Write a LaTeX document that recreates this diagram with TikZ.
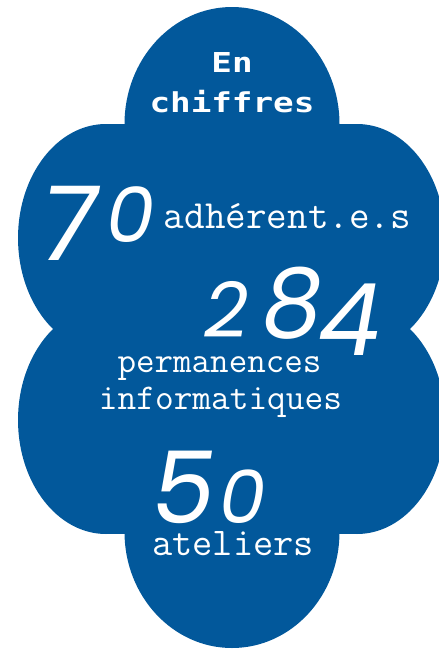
\documentclass[tikz,border=0pt]{standalone}
\usepackage{fontspec}
\newfontfamily\enfont[FakeStretch=1.25]{DejaVu Sans Mono}
\newfontfamily\numfont{Poppins}
\definecolor{cloudblue}{RGB}{2,88,155}
\newcommand{\fsz}[1]{\fontsize{#1}{#1}\selectfont}
\begin{document}
\begin{tikzpicture}[x=1pt,y=-1pt,
  lab/.style={text=white,inner sep=0pt,anchor=base},
  head/.style={lab,font=\enfont\bfseries\fsz{27.4}},
  ttlab/.style={lab,font=\ttfamily\fsz{#1}},
  numlab/.style={text=white,inner sep=0pt,anchor=base west,font=\numfont\itshape},
]
\useasboundingbox (0,0) rectangle (439,654);
\begin{scope}[fill=cloudblue]
  \fill (232,124) ellipse [x radius=107.5, y radius=117];
  \fill (232,532) ellipse [x radius=107.5, y radius=116];
  \fill (106,238) ellipse [x radius=88, y radius=114];
  \fill (357,238) ellipse [x radius=88, y radius=114];
  \fill (106,420) ellipse [x radius=88, y radius=114];
  \fill (357,420) ellipse [x radius=88, y radius=114];
  \fill (106,124) rectangle (357,534);
\end{scope}
\node[head] (en) at (232,72) {En};
\node[head] (chiffres) at (232,112) {chiffres};
\node[numlab] (n70) at (40,242) {{\fsz{103}\raisebox{-18pt}{7}}\kern10pt{\fsz{77}0}};
\node[ttlab=40] (adh) at (287.5,228) {adhérent.e.s};
\node[numlab] (n284) at (204,337) {{\fsz{77}2}\kern14pt{\fsz{95}8}\kern-4pt{\fsz{100}\raisebox{-18pt}{4}}};
\node[ttlab=36] (perm) at (219.5,372) {permanences};
\node[ttlab=36.3] (info) at (220.5,409) {informatiques};
\node[numlab] (n50) at (152,523) {{\fsz{100}5}\kern4pt{\fsz{74}0}};
\node[ttlab=39.3] (ate) at (233,555) {ateliers};
\end{tikzpicture}
\end{document}
